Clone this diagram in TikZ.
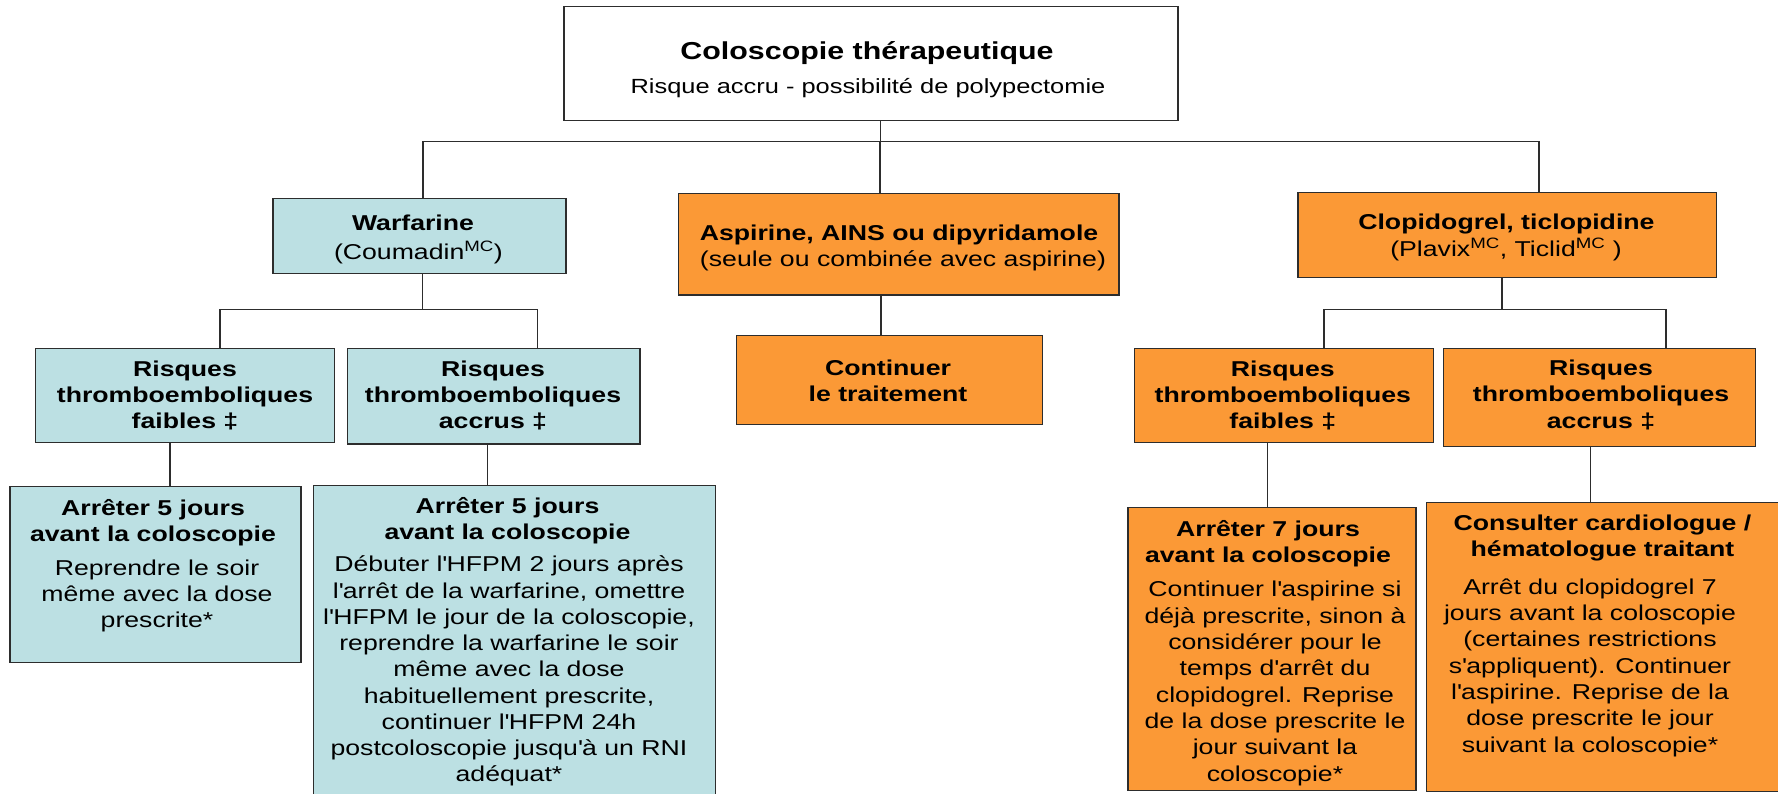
\documentclass[tikz,border=0pt]{standalone}
\usepackage{fontspec}
\setmainfont{Liberation Sans}[FakeStretch=1.24]
\definecolor{cblue}{RGB}{188,224,227}
\definecolor{corange}{RGB}{251,153,54}
\definecolor{cline}{RGB}{45,45,45}
\newcommand{\mystrut}{\rule{0pt}{20pt}}
\newcommand{\apo}{\textquotesingle}
\tikzset{
  cbox/.style={draw=cline, line width=1.4pt, inner sep=0pt, outer sep=0pt},
  bluebox/.style={cbox, fill=cblue},
  orbox/.style={cbox, fill=corange},
  whitebox/.style={cbox, fill=white},
  conn/.style={draw=cline, line width=1.4pt},
  ttl/.style={anchor=north, inner sep=0pt, align=center, font=\bfseries\fontsize{21.5}{26}\selectfont},
  txt/.style={anchor=north, inner sep=0pt, align=center, font=\fontsize{21.5}{26.3}\selectfont},
}
\begin{document}
\begin{tikzpicture}[x=1pt,y=-1pt]
\useasboundingbox[fill=white] (0,0) rectangle (1778,793);

% ---- boxes ----
\node[whitebox, minimum width=614pt, minimum height=114pt] (top) at (871,63.7) {};
\node[bluebox, minimum width=293pt, minimum height=75pt] (war) at (419.5,235.8) {};
\node[orbox, minimum width=440.7pt, minimum height=101.7pt] (asp) at (898.65,244.15) {};
\node[orbox, minimum width=418.7pt, minimum height=84.6pt] (clop) at (1507.35,235) {};
\node[bluebox, minimum width=299pt, minimum height=94.4pt] (rbf) at (184.8,395.5) {};
\node[bluebox, minimum width=292.7pt, minimum height=95.7pt] (rba) at (493.65,396.15) {};
\node[orbox, minimum width=306pt, minimum height=89pt] (cont) at (889.7,379.8) {};
\node[orbox, minimum width=299pt, minimum height=94.4pt] (rof) at (1283.8,395.5) {};
\node[orbox, minimum width=312.4pt, minimum height=98.4pt] (roa) at (1599.5,397.5) {};
\node[bluebox, minimum width=291pt, minimum height=176pt] (a5s) at (155.5,574.7) {};
\node[bluebox, minimum width=402.4pt, minimum height=314.5pt] (a5b) at (514.5,642.75) {};
\node[orbox, minimum width=288pt, minimum height=283.2pt] (a7) at (1272,648.9) {};
\node[orbox, minimum width=373.3pt, minimum height=289.4pt] (cons) at (1613.35,647) {};

% ---- texts ----
\node[anchor=north, inner sep=0pt, font=\bfseries\fontsize{24.5}{28}\selectfont] (ttop) at (867,39.3) {\mystrut Coloscopie thérapeutique};
\node[anchor=north, inner sep=0pt, font=\fontsize{20.5}{25}\selectfont] (stop) at (868,73.3) {\mystrut Risque accru - possibilité de polypectomie};

\node[ttl] (twar) at (413,210.7) {\mystrut Warfarine};
\node[txt] (swar) at (418.4,239) {\mystrut (Coumadin\textsuperscript{MC})};

\node[ttl] (tasp) at (899,220) {\mystrut Aspirine, AINS ou dipyridamole};
\node[txt] (sasp) at (903,246) {\mystrut (seule ou combinée avec aspirine)};

\node[ttl] (tclop) at (1506.4,209.3) {\mystrut Clopidogrel, ticlopidine};
\node[txt] (sclop) at (1506,236) {\mystrut (Plavix\textsuperscript{MC}, Ticlid\textsuperscript{MC} )};

\node[ttl, font=\bfseries\fontsize{21.5}{25.8}\selectfont] (trbf) at (185,356.7) {\mystrut Risques\\thromboemboliques\\faibles ‡};
\node[ttl, font=\bfseries\fontsize{21.5}{25.8}\selectfont] (trba) at (493,356.7) {\mystrut Risques\\thromboemboliques\\accrus ‡};
\node[ttl, font=\bfseries\fontsize{21.5}{26.7}\selectfont] (tcont) at (888,355) {\mystrut Continuer\\le traitement};
\node[ttl, font=\bfseries\fontsize{21.5}{25.8}\selectfont] (trof) at (1282.8,356.7) {\mystrut Risques\\thromboemboliques\\faibles ‡};
\node[ttl, font=\bfseries\fontsize{21.5}{26.7}\selectfont] (troa) at (1601,355) {\mystrut Risques\\thromboemboliques\\accrus ‡};

\node[ttl] (ta5s) at (153,495) {\mystrut Arrêter 5 jours\\avant la coloscopie};
\node[txt] (sa5s) at (157,555) {\mystrut Reprendre le soir\\même avec la dose\\prescrite*};

\node[ttl] (ta5b) at (507.5,493.3) {\mystrut Arrêter 5 jours\\avant la coloscopie};
\node[txt, font=\fontsize{21.5}{26.25}\selectfont] (sa5b) at (509,551.7) {\mystrut Débuter l\apo HFPM 2 jours après\\l\apo arrêt de la warfarine, omettre\\l\apo HFPM le jour de la coloscopie,\\reprendre la warfarine le soir\\même avec la dose\\habituellement prescrite,\\continuer l\apo HFPM 24h\\postcoloscopie jusqu\apo à un RNI\\adéquat*};

\node[ttl] (ta7) at (1268,516.7) {\mystrut Arrêter 7 jours\\avant la coloscopie};
\node[txt] (sa7) at (1275,576.7) {\mystrut Continuer l\apo aspirine si\\déjà prescrite, sinon à\\considérer pour le\\temps d\apo arrêt du\\clopidogrel. Reprise\\de la dose prescrite le\\jour suivant la\\coloscopie*};

\node[ttl] (tcons) at (1602.5,510.7) {\mystrut Consulter cardiologue /\\hématologue traitant};
\node[txt] (scons) at (1590,574) {\mystrut Arrêt du clopidogrel 7\\jours avant la coloscopie\\(certaines restrictions\\s\apo appliquent). Continuer\\l\apo aspirine. Reprise de la\\dose prescrite le jour\\suivant la coloscopie*};

% ---- connectors ----
\coordinate (bus1) at (0,141.3);
\coordinate (bus2) at (0,309.3);
\draw[conn] ([xshift=9.7pt]top.south) -- ([xshift=9.7pt]top.south |- bus1);
\draw[conn] ([xshift=3.5pt]war.north) |- ([xshift=31.65pt]clop.north |- bus1) -- ([xshift=31.65pt]clop.north);
\draw[conn] ([xshift=-18.65pt]asp.north) -- ([xshift=-18.65pt]asp.north |- bus1);

\draw[conn] ([xshift=3.2pt]war.south) -- ([xshift=3.2pt]war.south |- bus2);
\draw[conn] ([xshift=35.2pt]rbf.north) |- ([xshift=43.65pt]rba.north |- bus2) -- ([xshift=43.65pt]rba.north);

\draw[conn] ([xshift=-5.35pt]clop.south) -- ([xshift=-5.35pt]clop.south |- bus2);
\draw[conn] ([xshift=40.2pt]rof.north) |- ([xshift=66.5pt]roa.north |- bus2) -- ([xshift=66.5pt]roa.north);

\draw[conn] ([xshift=-17.65pt]asp.south) -- ([xshift=-17.65pt]asp.south |- cont.north);
\draw[conn] ([xshift=-14.8pt]rbf.south) -- ([xshift=-14.8pt]rbf.south |- a5s.north);
\draw[conn] ([xshift=-6.35pt]rba.south) -- ([xshift=-6.35pt]rba.south |- a5b.north);
\draw[conn] ([xshift=-16.5pt]rof.south) -- ([xshift=-16.5pt]rof.south |- a7.north);
\draw[conn] ([xshift=-8.8pt]roa.south) -- ([xshift=-8.8pt]roa.south |- cons.north);
\end{tikzpicture}
\end{document}
